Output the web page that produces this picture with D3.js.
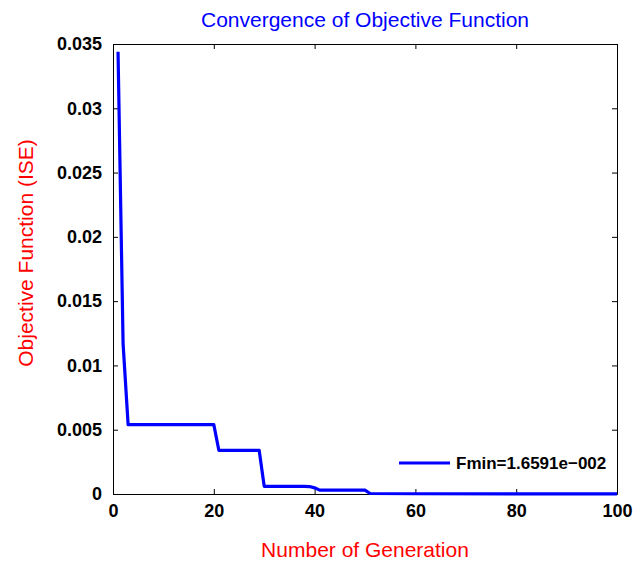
<!doctype html>
<html lang="en">
  <head>
    <meta charset="utf-8">
    <title>Convergence of Objective Function</title>
    <style>
      body{margin:0; background:#fff;}
      text{font-family:"Liberation Sans", Arial, sans-serif;}
      .axis text{font-weight:bold; font-size:18px; fill:#000;}
      .axis path, .axis line{stroke:#000;}
    </style>
  </head>
  <body>
    <script src="https://cdn.jsdelivr.net/npm/d3@7"></script>
    <script>

      // breakpoints of the best-so-far curve (generation -> ISE)
      var generations = [1, 2, 3, 20, 21, 29, 30, 38, 39, 40, 41, 50, 51, 60, 100];
      var ise = [0.0344, 0.0117, 0.0054, 0.0054, 0.0034, 0.0034, 0.0006, 0.0006,
                 0.00058, 0.00048, 0.0003, 0.0003, 0.00004, 0.00002, 0.00001];
      var xTicks = [0, 20, 40, 60, 80, 100];
      var yTicks = [0, 0.005, 0.01, 0.015, 0.02, 0.025, 0.03, 0.035];
      var legendLabel = "Fmin=1.6591e\u2212002";

      var data = generations.map(function(g, i){ return {g: g, v: ise[i]}; });

      var margin = {top: 44, right: 25, bottom: 68, left: 113},
          width  = 642 - margin.left - margin.right,
          height = 562 - margin.top - margin.bottom;

      var svg = d3.select("body")
        .append("svg")
        .attr("width", 642)
        .attr("height", 562);

      var chart = svg.append("g")
        .attr("transform", "translate(" + margin.left + "," + margin.top + ")");

      var x = d3.scaleLinear().domain([0, 100]).range([0, width]);
      var y = d3.scaleLinear().domain([0, 0.035]).range([height, 0]);

      var fmtY = function(d){ return d === 0 ? "0" : String(+d.toFixed(3)); };

      // axes with inward ticks, mirrored on top and right
      chart.append("g").attr("class", "axis")
        .attr("transform", "translate(0," + height + ")")
        .call(d3.axisBottom(x).tickValues(xTicks).tickSizeInner(-5).tickSizeOuter(0).tickPadding(10));
      chart.append("g").attr("class", "axis")
        .call(d3.axisTop(x).tickValues(xTicks).tickSizeInner(-5).tickSizeOuter(0).tickFormat(""));
      chart.append("g").attr("class", "axis")
        .call(d3.axisLeft(y).tickValues(yTicks).tickSizeInner(-5).tickSizeOuter(0).tickPadding(11).tickFormat(fmtY));
      chart.append("g").attr("class", "axis")
        .attr("transform", "translate(" + width + ",0)")
        .call(d3.axisRight(y).tickValues(yTicks).tickSizeInner(-5).tickSizeOuter(0).tickFormat(""));

      chart.append("path")
        .datum(data)
        .attr("fill", "none")
        .attr("stroke", "#0000ff")
        .attr("stroke-width", 3.2)
        .attr("stroke-linejoin", "round")
        .attr("d", d3.line().x(function(d){ return x(d.g); }).y(function(d){ return y(d.v); }));

      // legend
      var lg = chart.append("g").attr("transform", "translate(286," + (height - 31) + ")");
      lg.append("line").attr("x1", 0).attr("x2", 51).attr("y1", 0).attr("y2", 0)
        .attr("stroke", "#0000ff").attr("stroke-width", 3.2);
      lg.append("text").attr("x", 57).attr("y", 6)
        .style("font-weight", "bold").style("font-size", "17px")
        .text(legendLabel);

      svg.append("text")
        .attr("x", margin.left + width / 2).attr("y", 27)
        .attr("text-anchor", "middle")
        .style("font-size", "21px").attr("fill", "#0000ff")
        .text("Convergence of Objective Function");

      svg.append("text")
        .attr("x", margin.left + width / 2).attr("y", 557)
        .attr("text-anchor", "middle")
        .style("font-size", "21px").attr("fill", "#ff0000")
        .text("Number of Generation");

      svg.append("text")
        .attr("transform", "translate(33,253) rotate(-90)")
        .attr("text-anchor", "middle")
        .style("font-size", "21px").attr("fill", "#ff0000")
        .text("Objective Function (ISE)");

    </script>
  </body>
</html>
